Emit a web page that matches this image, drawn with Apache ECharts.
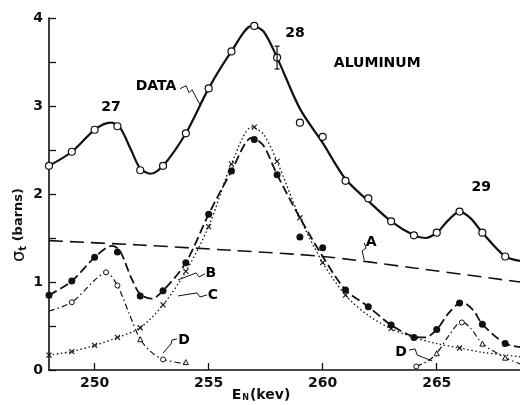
<!DOCTYPE html>
<html><head><meta charset="utf-8">
<script src="https://cdn.jsdelivr.net/npm/echarts@6/dist/echarts.min.js"></script>
<style>html,body{margin:0;padding:0;background:#fff}#c{width:520px;height:405px}</style>
</head><body><div id="c"></div>
<script>
// ---- data ----
const xTicks = [250, 255, 260, 265];
const yTicks = [0, 1, 2, 3, 4];
const dataPts = [[248,2.32],[249,2.48],[250,2.73],[251,2.77],[252,2.27],[253,2.32],[254,2.69],[255,3.2],[256,3.62],[257,3.91],[258,3.55],[259,2.81],[260,2.65],[261,2.15],[262,1.95],[263,1.69],[264,1.53],[265,1.56],[266,1.80],[267,1.56],[268,1.29]];
const dataCurve = [[248,2.32],[249,2.48],[250,2.73],[250.7,2.81],[251.1,2.76],[251.6,2.5],[252,2.29],[252.45,2.23],[253,2.32],[254,2.69],[255,3.2],[256,3.62],[256.9,3.91],[257.4,3.85],[258,3.55],[259,2.97],[260,2.58],[261,2.17],[262,1.92],[263,1.69],[264,1.53],[264.5,1.5],[265,1.56],[265.5,1.7],[266,1.80],[266.5,1.72],[267,1.56],[268,1.29],[268.65,1.24]];
const errBar = [[258, 3.55, 0.13]];
const curveA = [[248,1.47],[252,1.42],[256,1.36],[260,1.29],[264,1.16],[268.65,1.0]];
const ptsB = [[248,0.85],[249,1.01],[250,1.28],[251,1.34],[252,0.84],[253,0.90],[254,1.22],[255,1.77],[256,2.26],[257,2.62],[258,2.22],[259,1.51],[260,1.39],[261,0.91],[262,0.72],[263,0.51],[264,0.37],[265,0.46],[266,0.76],[267,0.52],[268,0.30]];
const curveB = [[248,0.85],[249,1.01],[250,1.28],[250.75,1.41],[251.1,1.36],[251.6,1.05],[252,0.86],[252.5,0.81],[253,0.9],[254,1.22],[255,1.77],[256,2.26],[256.9,2.64],[257.4,2.55],[258,2.22],[259,1.73],[260,1.29],[261,0.91],[262,0.72],[263,0.51],[264,0.38],[264.5,0.37],[265,0.46],[265.5,0.64],[266.1,0.77],[266.6,0.68],[267,0.52],[268,0.3],[268.65,0.26]];
const ptsC = [[248,0.17],[249,0.21],[250,0.28],[251,0.37],[252,0.48],[253,0.74],[254,1.12],[255,1.63],[256,2.34],[257,2.76],[258,2.37],[259,1.73],[260,1.22],[261,0.85],[263,0.47],[266,0.25]];
const curveC = [[248,0.17],[249,0.21],[250,0.28],[251,0.37],[252,0.48],[253,0.74],[254,1.12],[255,1.63],[256,2.34],[256.9,2.76],[257.4,2.68],[258,2.37],[259,1.73],[260,1.22],[261,0.85],[262,0.62],[263,0.47],[264,0.37],[265,0.30],[266,0.25],[267,0.2],[268,0.17],[268.65,0.15]];
const curveDleft = [[248,0.67],[249,0.77],[250,1.02],[250.5,1.11],[251,0.96],[251.5,0.65],[252,0.35],[252.5,0.2],[253,0.12],[254,0.07]];
const curveDright = [[264.1,0.04],[264.6,0.1],[265,0.19],[265.5,0.38],[266.1,0.55],[266.5,0.47],[267,0.30],[268,0.14],[268.65,0.07]];
const ptsDcircle = [[249,0.77],[250.5,1.11],[251,0.96],[253,0.12],[264.1,0.04],[266.1,0.54]];
const ptsDtri = [[252,0.35],[254,0.09],[265,0.19],[267,0.30],[268,0.14]];
const labels = [
  {t:'27', p:[250.72,2.98]}, {t:'28', p:[258.79,3.83]}, {t:'29', p:[266.95,2.08]},
  {t:'ALUMINUM', p:[262.39,3.48]}, {t:'DATA', p:[252.69,3.22]},
  {t:'A', p:[262.12,1.445]}, {t:'B', p:[255.1,1.10]}, {t:'C', p:[255.19,0.85]},
  {t:'D', p:[253.92,0.34]}, {t:'D', p:[263.44,0.205]}
];
const leaders = [
  [[253.75,3.197],[254.01,3.231],[254.14,3.151],[254.27,3.185],[254.62,3.015]],
  [[261.82,1.445],[261.9,1.388],[261.73,1.354],[261.82,1.25]],
  [[254.84,1.092],[254.58,1.058],[254.45,1.103],[253.66,1.024]],
  [[254.93,0.853],[254.62,0.83],[254.49,0.876],[253.66,0.842]],
  [[253.61,0.353],[253.39,0.341],[253.35,0.296],[253.0,0.193]],
  [[263.79,0.228],[264.05,0.239],[264.14,0.171],[264.8,0.102]]
];
// ---- chart ----
const FONT = 'DejaVu Sans';
const chart = echarts.init(document.getElementById('c'), null, {renderer:'canvas'});
const lineS = (data, style, extra) => Object.assign({type:'line', data, smooth:0.3, symbol:'none', silent:true,
  lineStyle:Object.assign({color:'#111'}, style), z:2}, extra||{});
const series = [
  lineS(curveA, {width:1.6, type:[14,7]}),
  lineS(curveB, {width:1.8, type:[9,4]}),
  lineS(curveC, {width:1.3, type:[1.5,2.5]}),
  lineS(curveDleft, {width:1.2, type:[6,3,1.5,3]}),
  lineS(curveDright, {width:1.2, type:[6,3,1.5,3]}),
  lineS(dataCurve, {width:2.2}),
  {type:'scatter', data:dataPts, symbol:'circle', symbolSize:7, itemStyle:{color:'#fff', borderColor:'#111', borderWidth:1.2, opacity:1}, z:5},
  {type:'scatter', data:ptsB, symbol:'circle', symbolSize:7, itemStyle:{color:'#111', opacity:1}, z:5},
  {type:'scatter', data:ptsC, symbol:'path://M0,0L10,10M10,0L0,10', symbolSize:5, itemStyle:{color:'none', borderColor:'#111', borderWidth:1.1, opacity:1}, z:5},
  {type:'scatter', data:ptsDcircle, symbol:'circle', symbolSize:5, itemStyle:{color:'#fff', borderColor:'#111', borderWidth:1, opacity:1}, z:5},
  {type:'scatter', data:ptsDtri, symbol:'triangle', symbolSize:5, itemStyle:{color:'#fff', borderColor:'#111', borderWidth:1, opacity:1}, z:5},
  {type:'custom', data:errBar, z:6, renderItem:(params, api) => {
    const x = api.value(0), y = api.value(1), e = api.value(2);
    const top = api.coord([x, y + e]), bot = api.coord([x, y - e]);
    const st = {stroke:'#111', lineWidth:1.2};
    return {type:'group', children:[
      {type:'line', shape:{x1:top[0], y1:top[1], x2:bot[0], y2:bot[1]}, style:st},
      {type:'line', shape:{x1:top[0]-2.5, y1:top[1], x2:top[0]+2.5, y2:top[1]}, style:st},
      {type:'line', shape:{x1:bot[0]-2.5, y1:bot[1], x2:bot[0]+2.5, y2:bot[1]}, style:st}
    ]};
  }},
  {type:'scatter', data:labels.map(l => ({value:l.p, name:l.t})), symbolSize:0, z:7, silent:true, itemStyle:{opacity:1},
    label:{show:true, position:'inside', formatter:p => p.name, color:'#000', fontFamily:FONT, fontWeight:'bold', fontSize:14}}
];
leaders.forEach(l => series.push(lineS(l, {width:1}, {smooth:false})));
chart.setOption({
  animation:false,
  grid:{left:49, right:0, top:18, bottom:35},
  xAxis:{type:'value', min:248, max:268.65,
    axisLine:{onZero:false, lineStyle:{color:'#111', width:1.6}},
    axisTick:{inside:true, length:7, customValues:xTicks, lineStyle:{color:'#111', width:1.3}},
    axisLabel:{customValues:xTicks, color:'#111', fontFamily:FONT, fontWeight:'bold', fontSize:14, margin:6},
    splitLine:{show:false}},
  yAxis:{type:'value', min:0, max:4, interval:0.5,
    axisLine:{show:true, lineStyle:{color:'#111', width:1.6}},
    axisTick:{inside:true, length:7, lineStyle:{color:'#111', width:1.3}},
    axisLabel:{color:'#111', fontFamily:FONT, fontWeight:'bold', fontSize:14, margin:6,
      formatter:v => yTicks.includes(v) ? String(v) : ''},
    splitLine:{show:false}},
  graphic:[
    {type:'text', x:19, y:225, rotation:Math.PI/2, style:{text:'{s|σ}{t|t}{r| (barns)}', align:'center', verticalAlign:'middle',
      rich:{s:{fontSize:18, fontFamily:FONT, fill:'#111'}, t:{fontSize:10, fontFamily:FONT, fontWeight:'bold', fill:'#111', verticalAlign:'bottom', padding:[6,0,0,0]}, r:{fontSize:13, fontFamily:FONT, fontWeight:'bold', fill:'#111'}}}},
    {type:'text', x:261, y:395, style:{text:'{e|E}{n|N}{r|(kev)}', align:'center', verticalAlign:'middle',
      rich:{e:{fontSize:14, fontFamily:FONT, fontWeight:'bold', fill:'#111'}, n:{fontSize:8, fontFamily:FONT, fontWeight:'bold', fill:'#111', padding:[6,1,0,1]}, r:{fontSize:14, fontFamily:FONT, fontWeight:'bold', fill:'#111'}}}}
  ],
  series
});
</script></body></html>
